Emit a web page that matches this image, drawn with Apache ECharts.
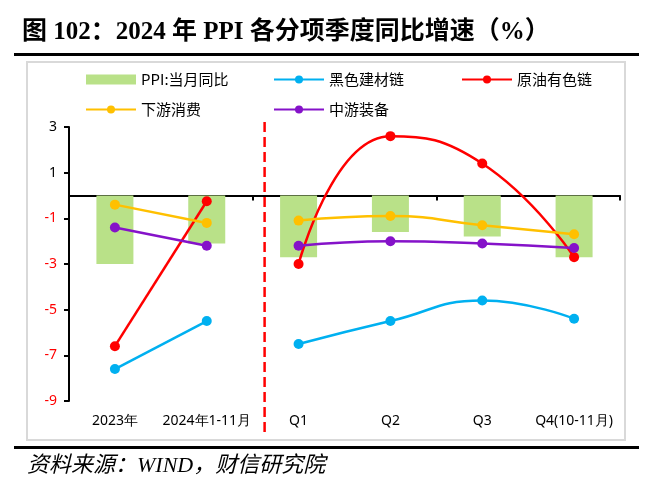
<!DOCTYPE html>
<html><head><meta charset="utf-8">
<script src="https://cdn.jsdelivr.net/npm/echarts@6/dist/echarts.min.js"></script>
<style>html,body{margin:0;padding:0;background:#fff}#c{width:657px;height:493px}</style>
</head><body><div id="c"></div>
<script>
const categories = ['2023年', '2024年1-11月', 'Q1', 'Q2', 'Q3', 'Q4(10-11月)'];
const ppi = [-3.0, -2.1, -2.7, -1.6, -1.8, -2.7];
const blackChain = [-7.6, -5.5, -6.5, -5.5, -4.6, -5.4];
const oilChain = [-6.6, -0.25, -3.0, 2.6, 1.4, -2.7];
const consumer = [-0.4, -1.2, -1.1, -0.9, -1.3, -1.7];
const equipment = [-1.4, -2.2, -2.2, -2.0, -2.1, -2.3];
const yMin = -9, yMax = 3, yInterval = 2;
const annualCount = 2;        // first two categories are annual figures
const dividerPos = 1.63;      // divider position, in category-index units

const names = ['PPI:当月同比', '黑色建材链', '原油有色链', '下游消费', '中游装备'];
const colors = {bar: '#b9e188', black: '#00b0f0', oil: '#ff0000', consumer: '#ffc000', equipment: '#8512c9'};

function part(arr, annual) {
  return arr.map((v, i) => (annual ? i < annualCount : i >= annualCount) ? v : '-');
}
function lineSeries(name, arr, color) {
  const base = {
    name: name, type: 'line', symbol: 'circle', symbolSize: 10,
    lineStyle: {color: color, width: 2.5}, itemStyle: {color: color},
    z: 3
  };
  return [
    Object.assign({}, base, {data: part(arr, true), smooth: false}),
    Object.assign({}, base, {data: part(arr, false), smooth: 0.5})
  ];
}

const chart = echarts.init(document.getElementById('c'));
const legendText = {fontSize: 15, color: '#000', fontFamily: 'Noto Sans CJK SC'};
const option = {
  animation: false,
  grid: {left: 69, right: 37, top: 127, bottom: 92},
  legend: [
    {left: 80, top: 67, orient: 'vertical', itemGap: 15, itemWidth: 50, itemHeight: 10,
     textStyle: legendText, data: [{name: names[0], icon: 'rect'}, names[3]]},
    {left: 268, top: 67, orient: 'vertical', itemGap: 15, itemWidth: 50, itemHeight: 10,
     textStyle: legendText, data: [names[1], names[4]]},
    {left: 456, top: 67, orient: 'vertical', itemGap: 15, itemWidth: 50, itemHeight: 10,
     textStyle: legendText, data: [names[2]]}
  ],
  xAxis: [
    {type: 'category', data: categories, position: 'bottom',
     axisLine: {onZero: true, lineStyle: {color: '#000', width: 2}},
     axisTick: {show: true, length: 5, lineStyle: {color: '#000', width: 2}},
     axisLabel: {show: false}, splitLine: {show: false}},
    {type: 'category', data: categories, position: 'bottom',
     axisLine: {show: false, onZero: false}, axisTick: {show: false},
     axisLabel: {show: true, interval: 0, margin: 13, fontSize: 14, color: '#000', fontFamily: 'Noto Sans'},
     splitLine: {show: false}}
  ],
  yAxis: {
    type: 'value', min: yMin, max: yMax, interval: yInterval,
    axisLine: {show: true, lineStyle: {color: '#000', width: 2}},
    axisTick: {show: true, length: 5, lineStyle: {color: '#000', width: 2}},
    splitLine: {show: false},
    axisLabel: {margin: 12, fontSize: 14, fontFamily: 'Noto Sans',
      color: v => (Number(v) < 0 ? '#ff0000' : '#000')}
  },
  series: [
    {name: names[0], type: 'bar', data: ppi, barWidth: 37,
     itemStyle: {color: colors.bar}, z: 1}
  ].concat(
    lineSeries(names[1], blackChain, colors.black),
    lineSeries(names[2], oilChain, colors.oil),
    lineSeries(names[3], consumer, colors.consumer),
    lineSeries(names[4], equipment, colors.equipment)
  ),
  graphic: [
    {type: 'text', left: 22, top: 20, style: {text: '图 102：2024 年 PPI 各分项季度同比增速（%）',
      font: 'bold 25px "Liberation Serif", "Noto Sans CJK SC"', fill: '#000'}},
    {type: 'rect', shape: {x: 14, y: 53, width: 625, height: 3}, style: {fill: '#000'}},
    {type: 'rect', shape: {x: 27, y: 62, width: 598, height: 378}, style: {fill: 'none', stroke: '#d9d9d9', lineWidth: 2}, z: -1},
    {type: 'rect', shape: {x: 14, y: 446, width: 625, height: 3}, style: {fill: '#000'}},
    {type: 'text', left: 27, top: 455, style: {text: '资料来源：WIND，财信研究院',
      font: 'italic 22px "Liberation Serif", "Noto Sans CJK SC"', fill: '#000'}}
  ]
};
chart.setOption(option);

const p1 = chart.convertToPixel({xAxisIndex: 0}, 1);
const p2 = chart.convertToPixel({xAxisIndex: 0}, 2);
const dx = p1 + (p2 - p1) * (dividerPos - 1);
const yTop = chart.convertToPixel({yAxisIndex: 0}, yMax) - 5;
const yBot = chart.convertToPixel({yAxisIndex: 0}, yMin) + 31;
chart.setOption({graphic: option.graphic.concat([
  {type: 'line', shape: {x1: dx, y1: yTop, x2: dx, y2: yBot},
   style: {stroke: '#ff0000', lineWidth: 2.5, lineDash: [10, 5]}, z: 10}
])});
</script></body></html>
